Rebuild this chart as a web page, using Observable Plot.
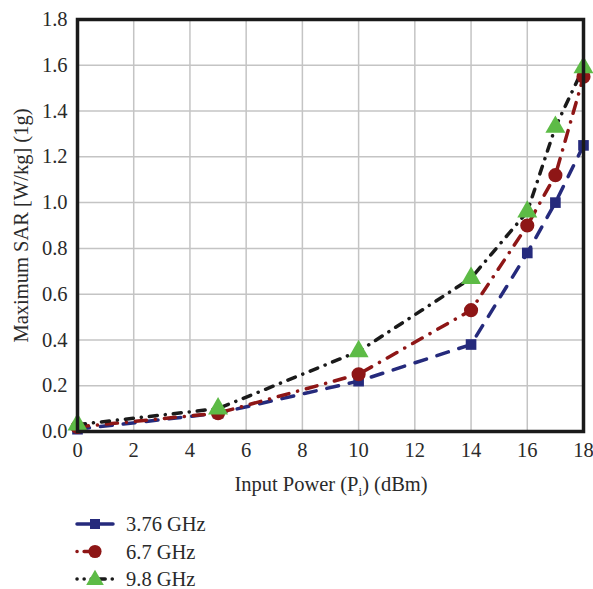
<!DOCTYPE html>
<html>
<head>
<meta charset="utf-8">
<script src="https://cdn.jsdelivr.net/npm/d3@7"></script>
<script src="https://cdn.jsdelivr.net/npm/@observablehq/plot@0.6"></script>
<style>
  html, body { margin: 0; padding: 0; background: #fff; }
  #chart svg { display: block; }
</style>
</head>
<body>
<div id="chart"></div>
<script>
const inputPower = [0, 5, 10, 14, 16, 17, 18];
const sar376 = [0.01, 0.08, 0.22, 0.38, 0.78, 1.00, 1.25];
const sar67  = [0.02, 0.08, 0.25, 0.53, 0.90, 1.12, 1.55];
const sar98  = [0.03, 0.10, 0.35, 0.67, 0.96, 1.33, 1.59];
const seriesNames = ["3.76 GHz", "6.7 GHz", "9.8 GHz"];
const xTicks = [0, 2, 4, 6, 8, 10, 12, 14, 16, 18];
const yTicks = [0, 0.2, 0.4, 0.6, 0.8, 1.0, 1.2, 1.4, 1.6, 1.8];

const colors = { line: ["#252a7c", "#8e1616", "#1a1a1a"], marker: ["#252a7c", "#8e1616", "#5dbb46"] };
const dashes = ["12,11", "11,9,0.1,9", "8,8,0.1,8"];
const symbols = ["square", "circle", "triangle"];
const sizes = [36, 50, 55];

const allSeries = [sar376, sar67, sar98];
const data = allSeries.map((vals, k) => inputPower.map((x, i) => ({ x, y: vals[i], s: seriesNames[k] })));

const FONT = "'Liberation Serif', 'DejaVu Serif', serif";
const FS = 20.5;

const marks = [
  Plot.gridX(xTicks, { stroke: "#c4c4c4", strokeOpacity: 1, strokeWidth: 1.5 }),
  Plot.gridY(yTicks, { stroke: "#c4c4c4", strokeOpacity: 1, strokeWidth: 1.5 }),
];
data.forEach((d, k) => {
  marks.push(Plot.line(d, { x: "x", y: "y", stroke: colors.line[k], strokeWidth: 3.5, strokeDasharray: dashes[k], strokeLinecap: "round" }));
});
data.forEach((d, k) => {
  marks.push(Plot.dot(d, { x: "x", y: "y", symbol: () => symbols[k], fill: colors.marker[k], r: Math.sqrt(sizes[k]), stroke: "none" }));
});
marks.push(Plot.frame({ stroke: "#1a1a1a", strokeWidth: 3.5 }));
marks.push(Plot.axisX(xTicks, { tickSize: 0, tickPadding: 11, label: null, fontSize: FS }));
marks.push(Plot.axisY(yTicks, { tickSize: 0, tickPadding: 10, tickFormat: d => d.toFixed(1), label: "Maximum SAR [W/kg] (1g)", labelAnchor: "center", labelArrow: "none", labelOffset: 64, fontSize: FS }));

const plot = Plot.plot({
  width: 593,
  height: 500,
  marginLeft: 77,
  marginRight: 10,
  marginTop: 19,
  marginBottom: 69,
  style: { fontFamily: FONT, fontSize: FS + "px", color: "#2a2a2a", background: "#fff" },
  x: { domain: [0, 18] },
  y: { domain: [0, 1.8] },
  symbol: { type: "identity" },
  marks
});

// x-axis label with subscript
const svg = d3.select(plot);
const xl = svg.append("text")
  .attr("x", 331).attr("y", 491)
  .attr("text-anchor", "middle")
  .attr("font-family", FONT).attr("font-size", FS).attr("fill", "#2a2a2a");
xl.append("tspan").text("Input Power (P");
xl.append("tspan").attr("font-size", 13).attr("dy", 5).text("i");
xl.append("tspan").attr("dy", -5).text(") (dBm)");

document.getElementById("chart").appendChild(plot);

// legend below
const leg = d3.select("#chart").append("svg")
  .attr("width", 593).attr("height", 89)
  .style("display", "block");
const legSizes = [100, 135, 135];
seriesNames.forEach((name, k) => {
  const cy = 24 + k * 27.5;
  const g = leg.append("g");
  g.append("line").attr("x1", 77).attr("x2", 113).attr("y1", cy).attr("y2", cy)
    .attr("stroke", colors.line[k]).attr("stroke-width", 3.5)
    .attr("stroke-dasharray", k === 0 ? null : (k === 1 ? "0.1,7,10,20,10,7" : "0.1,7,0.1,7,14,7,0.1,7,0.1"))
    .attr("stroke-linecap", "round");
  const sym = [d3.symbolSquare, d3.symbolCircle, d3.symbolTriangle][k];
  g.append("path").attr("d", d3.symbol(sym, legSizes[k])())
    .attr("transform", `translate(95,${cy + (k === 2 ? 1 : 0)})`).attr("fill", colors.marker[k]);
  g.append("text").attr("x", 126).attr("y", cy).attr("dy", "0.35em")
    .attr("font-family", FONT).attr("font-size", FS).attr("fill", "#2a2a2a").text(name);
});
</script>
</body>
</html>
